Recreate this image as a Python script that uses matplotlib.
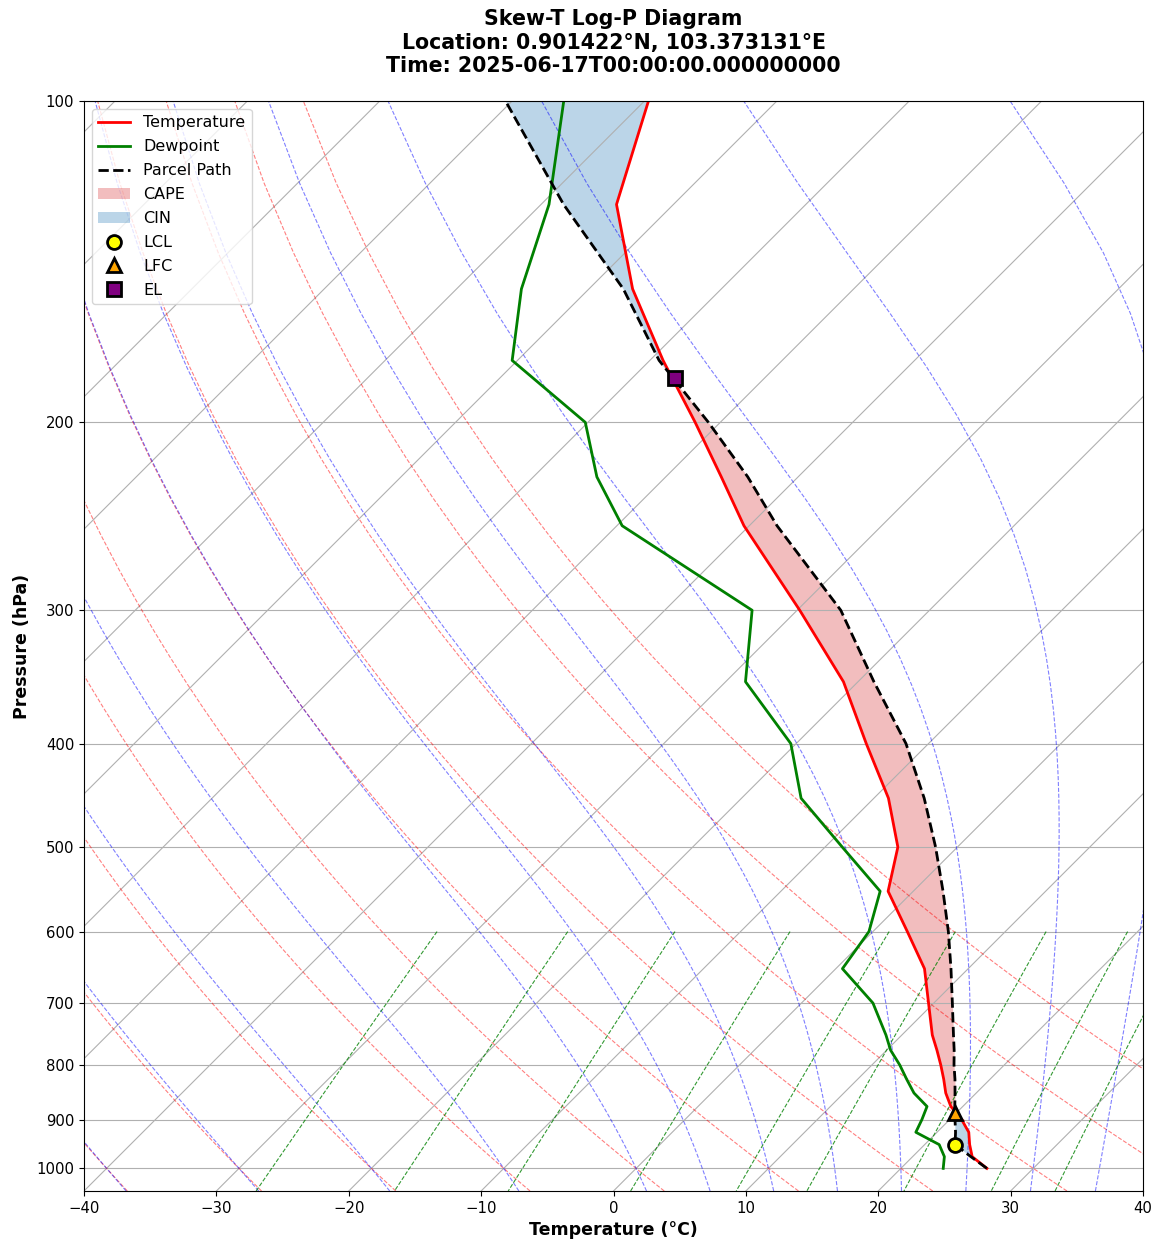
import numpy as np
import matplotlib
matplotlib.use('Agg')
import matplotlib.pyplot as plt
from contextlib import ExitStack
import matplotlib.axis as maxis
import matplotlib.spines as mspines
import matplotlib.transforms as transforms
from matplotlib.axes import Axes
from matplotlib.projections import register_projection
from matplotlib.collections import LineCollection
from matplotlib.ticker import MultipleLocator, ScalarFormatter, NullLocator, FuncFormatter

# ---------------- data ----------------
pressure = [1000, 975, 950, 925, 900, 875, 850, 825, 800, 775, 750, 700, 650,
            600, 550, 500, 450, 400, 350, 300, 250, 225, 200, 175, 150, 125, 100]
temperature = [26.5, 24.5, 23.4, 22.4, 20.9, 19.1, 17.7, 16.5, 15.2, 13.8, 12.3,
               9.6, 6.7, 2.6, -1.9, -4.5, -8.9, -14.7, -21.1, -29.8, -40.4,
               -45.8, -51.9, -59.0, -66.7, -74.3, -79.7]
dewpoint = [23.2, 22.4, 21.1, 18.4, 17.9, 17.3, 15.3, 13.7, 12.1, 10.3, 8.8,
            5.4, 0.5, -0.3, -2.5, -8.7, -15.5, -20.4, -28.5, -33.4, -49.6,
            -55.2, -60.2, -70.4, -75.1, -79.4, -86.1]
parcel = [26.5, 24.4, 22.3, 21.4, 20.4, 19.4, 18.4, 17.35, 16.2, 15.1, 13.9,
          11.4, 8.7, 5.7, 2.25, -1.65, -6.2, -11.7, -18.8, -26.7, -37.9,
          -43.8, -50.9, -59.3, -67.4, -78.3, -90.5]
lcl_p, lcl_t = 951.0, 22.3
lfc_p, lfc_t = 887.0, 19.9
el_p, el_t = 181.8, -56.8

title_text = ('Skew-T Log-P Diagram\nLocation: 0.901422°N, 103.373131°E\n'
              'Time: 2025-06-17T00:00:00.000000000')

# ---------------- layout ----------------
FIG_W, FIG_H, DPI = 11.65, 12.41, 100
AX_L, AX_R, AX_T, AX_B = 84, 1143, 101, 1191
SKEW = (AX_B - AX_T) / (AX_R - AX_L)   # 45 degree isotherms in display space
X_MIN, X_MAX = -40, 40


def _contains(interval, val):
    a, b = sorted(interval)
    return (a - 1e-9) <= val <= (b + 1e-9)


class SkewXTick(maxis.XTick):
    def draw(self, renderer):
        with ExitStack() as stack:
            for artist in [self.gridline, self.tick1line, self.tick2line,
                           self.label1, self.label2]:
                stack.callback(artist.set_visible, artist.get_visible())
            loc = self.get_loc()
            needs_lower = _contains(self.axes.lower_xlim, loc)
            needs_upper = _contains(self.axes.upper_xlim, loc)
            self.tick1line.set_visible(self.tick1line.get_visible() and needs_lower)
            self.label1.set_visible(self.label1.get_visible() and needs_lower)
            self.tick2line.set_visible(self.tick2line.get_visible() and needs_upper)
            self.label2.set_visible(self.label2.get_visible() and needs_upper)
            super().draw(renderer)

    def get_view_interval(self):
        return self.axes.xaxis.get_view_interval()


class SkewXAxis(maxis.XAxis):
    _tick_class = SkewXTick

    def get_view_interval(self):
        return self.axes.upper_xlim[0], self.axes.lower_xlim[1]


class SkewSpine(mspines.Spine):
    def _adjust_location(self):
        pts = self._path.vertices
        if self.spine_type == 'top':
            pts[:, 0] = self.axes.upper_xlim
        else:
            pts[:, 0] = self.axes.lower_xlim


class SkewXAxes(Axes):
    name = 'skewx'

    def _init_axis(self):
        self.xaxis = SkewXAxis(self)
        self.spines.top.register_axis(self.xaxis)
        self.spines.bottom.register_axis(self.xaxis)
        self.yaxis = maxis.YAxis(self)
        self.spines.left.register_axis(self.yaxis)
        self.spines.right.register_axis(self.yaxis)

    def _gen_axes_spines(self, *args, **kwargs):
        return {'top': SkewSpine.linear_spine(self, 'top'),
                'bottom': mspines.Spine.linear_spine(self, 'bottom'),
                'left': mspines.Spine.linear_spine(self, 'left'),
                'right': mspines.Spine.linear_spine(self, 'right')}

    def _set_lim_and_transforms(self):
        super()._set_lim_and_transforms()
        skew = transforms.Affine2D(np.array([[1.0, SKEW, 0.0],
                                             [0.0, 1.0, 0.0],
                                             [0.0, 0.0, 1.0]]))
        self.transDataToAxes = self.transScale + self.transLimits + skew
        self.transData = self.transDataToAxes + self.transAxes
        self._xaxis_transform = (
            transforms.blended_transform_factory(self.transScale + self.transLimits,
                                                 transforms.IdentityTransform())
            + skew + self.transAxes)

    @property
    def lower_xlim(self):
        return self.axes.viewLim.intervalx

    @property
    def upper_xlim(self):
        pts = [[0., 1.], [1., 1.]]
        return self.transDataToAxes.inverted().transform(pts)[:, 0]


register_projection(SkewXAxes)

# ---------------- thermodynamic reference lines ----------------
Rd, Cp, Lv, EPS = 287.04749, 1004.6662, 2.50084e6, 0.6219569


def sat_mr(p, T):
    es = 6.112 * np.exp(17.67 * (T - 273.15) / (T - 29.65))
    return EPS * es / (p - es)


def dTdp(p, T):
    rs = sat_mr(p, T)
    return (Rd * T + Lv * rs) / (Cp + Lv * Lv * rs * EPS / (Rd * T * T)) / p


def moist_lapse(pres, t0c, p_ref=1000.0):
    out = np.zeros((len(t0c), len(pres)))
    for j, pt in enumerate(pres):
        T = np.asarray(t0c, float) + 273.15
        n = max(1, int(abs(pt - p_ref) / 2.0) + 1)
        h = (pt - p_ref) / n
        p = p_ref
        for _ in range(n):
            k1 = dTdp(p, T)
            k2 = dTdp(p + h / 2, T + h / 2 * k1)
            k3 = dTdp(p + h / 2, T + h / 2 * k2)
            k4 = dTdp(p + h, T + h * k3)
            T = T + h / 6 * (k1 + 2 * k2 + 2 * k3 + k4)
            p += h
        out[:, j] = T - 273.15
    return out


def x_label(val, pos):
    if val < X_MIN - 1e-6 or val > X_MAX + 1e-6:
        return ''
    return f'{int(round(val))}'.replace('-', '\u2212')


# ---------------- figure ----------------
fig = plt.figure(figsize=(FIG_W, FIG_H), dpi=DPI)
rect = [AX_L / (FIG_W * DPI), 1 - AX_B / (FIG_H * DPI),
        (AX_R - AX_L) / (FIG_W * DPI), (AX_B - AX_T) / (FIG_H * DPI)]
ax = fig.add_axes(rect, projection='skewx')
ax.set_yscale('log')
ax.yaxis.set_major_locator(MultipleLocator(100))
ax.yaxis.set_minor_locator(NullLocator())
ax.yaxis.set_major_formatter(ScalarFormatter())
ax.xaxis.set_major_locator(MultipleLocator(10))
ax.xaxis.set_major_formatter(FuncFormatter(x_label))
ax.set_xlim(X_MIN, X_MAX)
ax.set_ylim(1050, 100)
ax.grid(True)
ax.tick_params(labelsize=10.7)

p_lines = np.linspace(1050, 100, 50)
t0_dry = np.arange(-40, 51, 10)
dry = (t0_dry[:, None] + 273.15) * (p_lines[None, :] / 1000.0) ** 0.28571 - 273.15
ax.add_collection(LineCollection([np.column_stack((t, p_lines)) for t in dry],
                                 colors='r', linestyles='dashed', alpha=0.5,
                                 linewidths=0.8), autolim=False)

t0_moist = np.concatenate((np.arange(-40, 0, 10), np.arange(0, 51, 5)))
moist = moist_lapse(p_lines, t0_moist)
ax.add_collection(LineCollection([np.column_stack((t, p_lines)) for t in moist],
                                 colors='b', linestyles='dashed', alpha=0.5,
                                 linewidths=0.8), autolim=False)

w_mix = np.array([0.0004, 0.001, 0.002, 0.004, 0.007, 0.01, 0.016, 0.024, 0.032])
p_mix = np.linspace(600, 1050, 50)
e_mix = p_mix[None, :] * w_mix[:, None] / (EPS + w_mix[:, None])
lnr = np.log(e_mix / 6.112)
td_mix = 243.5 * lnr / (17.67 - lnr)
ax.add_collection(LineCollection([np.column_stack((t, p_mix)) for t in td_mix],
                                 colors='g', linestyles='dashed', alpha=0.8,
                                 linewidths=0.8), autolim=False)

p_arr = np.array(pressure, float)
t_arr = np.array(temperature, float)
td_arr = np.array(dewpoint, float)
prof = np.array(parcel, float)

h_t, = ax.plot(t_arr, p_arr, color='red', lw=2, label='Temperature')
h_td, = ax.plot(td_arr, p_arr, color='green', lw=2, label='Dewpoint')
h_pp, = ax.plot(prof, p_arr, color='black', lw=2, linestyle='--', label='Parcel Path')
h_cape = ax.fill_betweenx(p_arr, t_arr, prof, where=prof > t_arr, interpolate=True,
                          color='tab:red', alpha=0.3, label='CAPE', linewidth=0)
h_cin = ax.fill_betweenx(p_arr, t_arr, prof, where=prof < t_arr, interpolate=True,
                         color='tab:blue', alpha=0.3, label='CIN', linewidth=0)
h_lcl, = ax.plot([lcl_t], [lcl_p], linestyle='none', marker='o', markersize=10,
                 markerfacecolor='yellow', markeredgecolor='black', mew=2,
                 label='LCL', zorder=6)
h_lfc, = ax.plot([lfc_t], [lfc_p], linestyle='none', marker='^', markersize=10,
                 markerfacecolor='orange', markeredgecolor='black', mew=2,
                 label='LFC', zorder=6)
h_el, = ax.plot([el_t], [el_p], linestyle='none', marker='s', markersize=10,
                markerfacecolor='purple', markeredgecolor='black', mew=2,
                label='EL', zorder=6)

ax.legend(handles=[h_t, h_td, h_pp, h_cape, h_cin, h_lcl, h_lfc, h_el],
          loc='upper left', fontsize=11.5, labelspacing=0.56)

ax.set_xlim(X_MIN, X_MAX)
ax.set_ylim(1050, 100)
ax.set_title(title_text, fontsize=14.8, fontweight='bold', pad=21)
ax.set_xlabel('Temperature (°C)', fontsize=12.5, fontweight='bold')
ax.set_ylabel('Pressure (hPa)', fontsize=12.5, fontweight='bold')

fig.savefig('out.png', dpi=DPI)
